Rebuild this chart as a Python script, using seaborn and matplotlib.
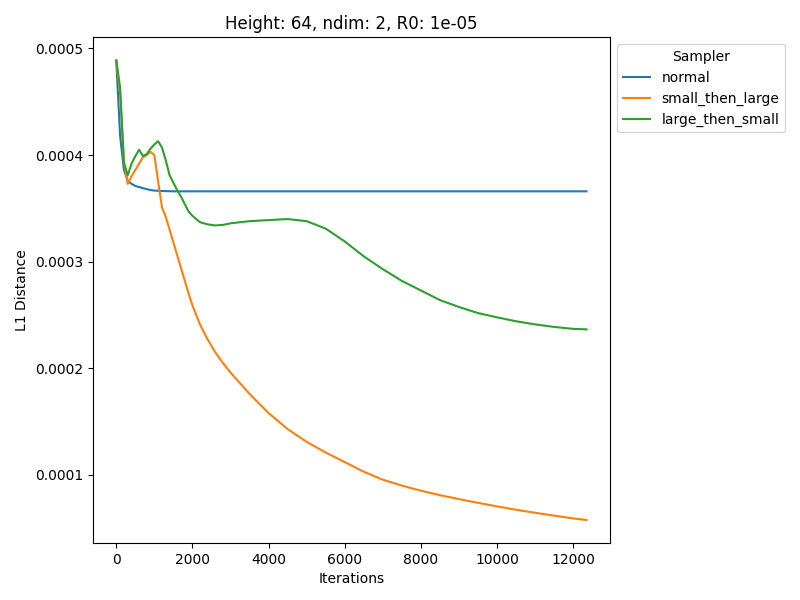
import pandas as pd
import seaborn as sns
import matplotlib
matplotlib.use('Agg')
import matplotlib.pyplot as plt

# Data
iterations = [0, 100, 200, 300, 400, 500, 600, 700, 800, 900, 1000,
              1100, 1200, 1300, 1400, 1500, 1600, 1700, 1800, 1900, 2000,
              2200, 2400, 2600, 2800, 3000, 3500, 4000, 4500, 5000, 5500,
              6000, 6500, 7000, 7500, 8000, 8500, 9000, 9500, 10000, 10500,
              11000, 11500, 12000, 12350]

normal = [0.000488, 0.000418, 0.000386, 0.000376, 0.000373, 0.000371, 0.000370,
          0.000369, 0.000368, 0.0003672, 0.0003667,
          0.0003665, 0.0003663, 0.0003662, 0.0003661, 0.000366, 0.000366,
          0.000366, 0.000366, 0.000366, 0.000366,
          0.000366, 0.000366, 0.000366, 0.000366, 0.000366, 0.000366,
          0.000366, 0.000366, 0.000366, 0.000366,
          0.000366, 0.000366, 0.000366, 0.000366, 0.000366, 0.000366,
          0.000366, 0.000366, 0.000366, 0.000366,
          0.000366, 0.000366, 0.000366, 0.000366]

small_then_large = [0.000488, 0.000458, 0.000393, 0.000373, 0.000380, 0.000386,
                    0.000392, 0.000398, 0.000400, 0.000403, 0.000400,
                    0.000375, 0.000351, 0.000342, 0.000330, 0.000318, 0.000306,
                    0.000294, 0.000282, 0.000270, 0.000259,
                    0.000241, 0.000227, 0.000215, 0.000205, 0.000196, 0.000176,
                    0.000158, 0.000143, 0.000131, 0.000121,
                    0.000112, 0.000103, 0.0000955, 0.0000900, 0.0000852, 0.0000810,
                    0.0000773, 0.0000738, 0.0000705, 0.0000673,
                    0.0000645, 0.0000618, 0.0000592, 0.0000577]

large_then_small = [0.000489, 0.000463, 0.000393, 0.000381, 0.000392, 0.000399,
                    0.000405, 0.000399, 0.000401, 0.000406, 0.000410,
                    0.000413, 0.000407, 0.000395, 0.000381, 0.000374, 0.000367,
                    0.000361, 0.000354, 0.000347, 0.000343,
                    0.000337, 0.000335, 0.000334, 0.0003345, 0.000336, 0.000338,
                    0.000339, 0.000340, 0.000338, 0.000331,
                    0.000319, 0.000305, 0.000293, 0.000282, 0.000273, 0.000264,
                    0.0002575, 0.0002518, 0.0002478, 0.0002441,
                    0.0002412, 0.0002388, 0.000237, 0.0002365]

samplers = ['normal', 'small_then_large', 'large_then_small']

# Long-form table for seaborn
df = pd.DataFrame({
    'Iterations': iterations * 3,
    'L1 Distance': normal + small_then_large + large_then_small,
    'Sampler': [s for s in samplers for _ in iterations],
})

# Setting up plot
fig, ax = plt.subplots(figsize=(8, 6), dpi=100)
fig.subplots_adjust(left=0.116, right=0.7625, top=0.938, bottom=0.095)

sns.lineplot(data=df, x='Iterations', y='L1 Distance', hue='Sampler',
             hue_order=samplers, ax=ax)

ax.set_title('Height: 64, ndim: 2, R0: 1e-05')
ax.set_xlabel('Iterations')
ax.set_ylabel('L1 Distance')
ax.legend(title='Sampler', loc='upper left', bbox_to_anchor=(1.0, 1.0))

plt.savefig('out.png', dpi=100)
